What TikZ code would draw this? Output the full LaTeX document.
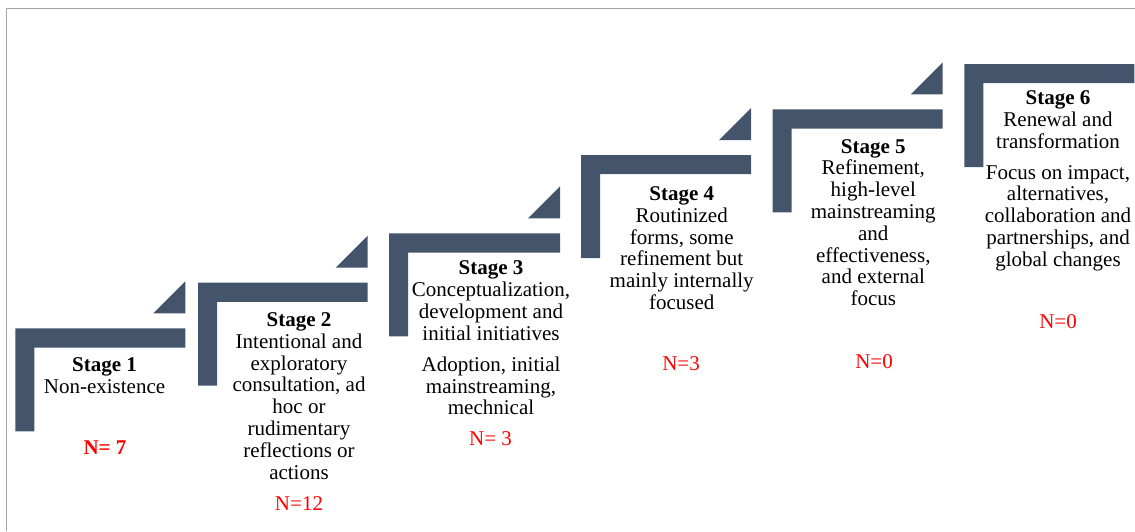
\documentclass[tikz,border=0pt]{standalone}
\usepackage{fontspec}
\setmainfont{Liberation Serif}
\definecolor{barcol}{HTML}{44546A}
\definecolor{framecol}{HTML}{A6A6A6}
\definecolor{ncol}{HTML}{FF0000}
\tikzset{
  stair/.style={fill=barcol, draw=none},
  stagetext/.style={anchor=north, inner sep=0pt, align=center, text=black,
    font=\fontsize{21}{21.8}\selectfont},
  nlabel/.style={anchor=base, inner sep=0pt, text=ncol,
    font=\fontsize{21}{21.8}\selectfont},
}
% #1 left, #2 top, #3 right
\newcommand{\stairbar}[3]{%
  \fill[stair] (#1,#2) -- (#3,#2) -- (#3,#2+19.2) -- (#1+19,#2+19.2) -- (#1+19,#2+103) -- (#1,#2+103) -- cycle;
}
% #1 top of bar below, #2 right
\newcommand{\stairtip}[2]{%
  \fill[stair] (#2-32,#1-15) -- (#2,#1-15) -- (#2,#1-47) -- cycle;
}
\begin{document}
\begin{tikzpicture}[x=1pt,y=-1pt]
\useasboundingbox (0,0) rectangle (1135,531);
\draw[framecol, line width=1.2pt] (6.7,531) -- (6.7,8.4) -- (1135,8.4);

\stairbar{15.3}{328.3}{185.3}   \stairtip{328.3}{185.3}
\stairbar{198}{282.7}{367.7}    \stairtip{282.7}{367.7}
\stairbar{389}{233.3}{560}      \stairtip{233.3}{560}
\stairbar{581}{155}{751}        \stairtip{155}{751}
\stairbar{772.7}{109.3}{942.7}  \stairtip{109.3}{942.7}
\stairbar{964.3}{64}{1134.3}

\node[stagetext] (s1) at (104.5,357.3) {\textbf{Stage 1}\\Non-existence};
\node[stagetext] (s2) at (299,312.3) {\textbf{Stage 2}\\Intentional and\\exploratory\\consultation, ad\\hoc or\\rudimentary\\reflections or\\actions};
\node[stagetext] (s3) at (491,260.6) {\textbf{Stage 3}\\Conceptualization,\\development and\\initial initiatives\\[9.4pt]Adoption, initial\\mainstreaming,\\mechnical};
\node[stagetext] (s4) at (681.7,186.3) {\textbf{Stage 4}\\Routinized\\forms, some\\refinement but\\mainly internally\\focused};
\node[stagetext] (s5) at (873.3,139) {\textbf{Stage 5}\\Refinement,\\high-level\\mainstreaming\\and\\effectiveness,\\and external\\focus};
\node[stagetext] (s6) at (1058,90.6) {\textbf{Stage 6}\\Renewal and\\transformation\\[9pt]Focus on impact,\\alternatives,\\collaboration and\\partnerships, and\\global changes};

\node[nlabel, font=\fontsize{21}{21.8}\selectfont\bfseries] (n1) at (105,454) {N= 7};
\node[nlabel] (n2) at (299,510) {N=12};
\node[nlabel] (n3) at (490.5,445) {N= 3};
\node[nlabel] (n4) at (681,370) {N=3};
\node[nlabel] (n5) at (874,368.3) {N=0};
\node[nlabel] (n6) at (1058,328.3) {N=0};
\end{tikzpicture}
\end{document}
